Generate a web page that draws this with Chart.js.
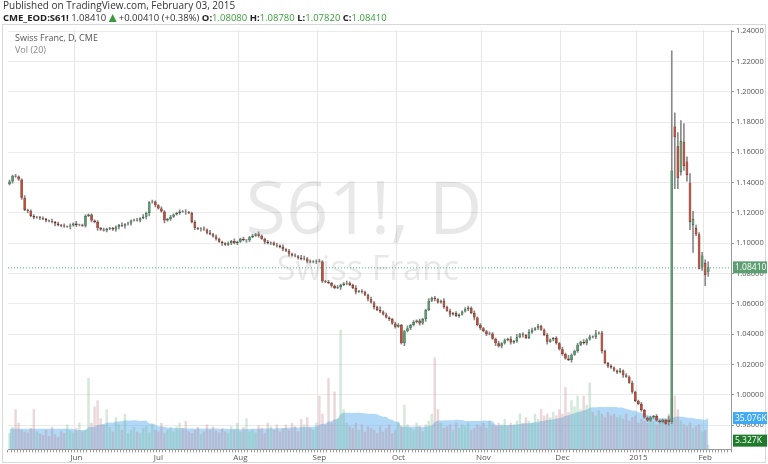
<!DOCTYPE html>
<html><head><meta charset="utf-8">
<script src="https://cdn.jsdelivr.net/npm/chart.js@4.4.1/dist/chart.umd.min.js"></script>
<style>html,body{margin:0;padding:0;background:#fff;overflow:hidden}#w{position:absolute;left:0;top:0;width:768px;height:464px}</style>
</head><body><div id="w"><canvas id="c"></canvas></div>
<script>
// Closing prices May 2014 .. Dec 2014 (open = previous close)
const closesA = [
1.1407,1.1445,1.1440,1.1420,1.1300,1.1220,1.1215,1.1180,1.1170,1.1172,1.1165,1.1160,1.1150,1.1145,1.1140,1.1130,1.1120,1.1118,1.1110,1.1110,
1.1118,1.1130,1.1120,1.1122,1.1116,1.1180,1.1190,1.1150,1.1140,1.1100,1.1090,1.1085,1.1095,1.1100,1.1090,1.1105,1.1120,1.1115,1.1125,1.1130,
1.1150,1.1155,1.1150,1.1165,1.1175,1.1200,1.1270,1.1275,1.1250,1.1230,1.1210,1.1150,1.1160,1.1175,1.1190,1.1200,1.1210,1.1208,1.1205,1.1200,
1.1140,1.1100,1.1095,1.1098,1.1090,1.1070,1.1060,1.1045,1.1030,1.1010,1.1000,1.0990,1.1000,1.1015,1.1000,1.1010,1.1030,1.1020,1.1020,1.1040,
1.1050,1.1060,1.1050,1.1030,1.1010,1.1000,1.1005,1.0990,1.0985,1.0975,1.0960,1.0950,1.0930,1.0920,1.0915,1.0905,1.0895,1.0900,1.0880,1.0875,
1.0880,1.0885,1.0880,1.0750,1.0745,1.0738,1.0720,1.0705,1.0710,1.0725,1.0735,1.0740,1.0725,1.0705,1.0680,1.0685,1.0680,1.0660,1.0630,1.0610,
1.0580,1.0560,1.0550,1.0530,1.0510,1.0500,1.0470,1.0450,1.0460,1.0340,1.0420,1.0440,1.0460,1.0480,1.0490,1.0470,1.0500,1.0560,1.0620,1.0640,
1.0630,1.0610,1.0620,1.0580,1.0555,1.0530,1.0540,1.0520,1.0530,1.0550,1.0565,1.0575,1.0540,1.0510,1.0460,1.0440,1.0420,1.0400,1.0405,1.0370,
1.0340,1.0320,1.0340,1.0360,1.0370,1.0345,1.0355,1.0380,1.0400,1.0395,1.0375,1.0415,1.0430,1.0440,1.0455,1.0430,1.0395,1.0350,1.0365,1.0375,
1.0340,1.0300,1.0270,1.0240,1.0230,1.0265,1.0290,1.0330,1.0350,1.0340,1.0365,1.0385,1.0380,1.0405,1.0410,1.0290,1.0210,1.0190,1.0180,1.0160,
1.0150,1.0160,1.0130,1.0120,1.0080,1.0020,0.9960,0.9940,0.9900,0.9850,0.9830,0.9850,0.9860,0.9830,0.9820,0.9835,0.9810];
// wick lengths, one digit per bar, unit 0.0005
const wickUp = "2120131121121131212121311211121211121312112131121121121121311211213121112131121121311211213121213312112112112112113121131141211221131212113121131212112213121121131213141213212112112131411213121412112113121211211212111";
const wickDn = "1211213121212113121131211212131121122131211213412113121121311213121121311212113211213121212131121121131211211312113121213121121211312112131121121311211213121211312112121311212113121121131211211213121121311211211";
// January 2015 explicit OHLC
const janOpen  = [0.9835,0.9820,1.1770,1.1640,1.1470,1.1670,1.1540,1.1400,1.1120,1.1100,1.1060,1.0840,1.0870,1.0808];
const janHigh  = [0.9860,1.2270,1.1860,1.1730,1.1810,1.1790,1.1570,1.1460,1.1210,1.1120,1.1070,1.0940,1.0890,1.0878];
const janLow   = [0.9800,0.9810,1.1360,1.1360,1.1450,1.1480,1.1410,1.1090,1.0940,1.1050,1.0830,1.0820,1.0720,1.0782];
const janClose = [0.9820,1.1480,1.1700,1.1430,1.1675,1.1510,1.1450,1.1140,1.1160,1.1060,1.0830,1.0920,1.0790,1.0841];
// volume (thousands)
const volumes = [
18,25,45,30,22,20,19,24,45,20,18,16,22,15,25,17,14,20,18,28,21,19,24,30,20,22,80,30,48,55,
35,27,45,25,20,36,28,22,40,18,22,25,20,18,24,26,19,28,22,20,30,18,22,25,20,26,30,24,32,20,
18,22,25,17,20,28,22,26,21,19,24,20,18,26,22,30,20,25,35,20,22,19,27,24,18,30,26,22,28,20,
24,28,22,30,26,20,34,28,36,24,22,30,60,40,28,80,30,65,35,134,45,30,26,24,30,22,28,20,26,24,
22,18,26,20,24,28,18,22,30,26,50,28,24,22,30,26,20,28,32,40,103,45,30,24,26,28,22,30,24,28,
26,30,22,24,28,26,30,24,32,28,26,30,28,34,26,30,28,32,40,30,36,32,30,40,34,45,38,40,36,42,
38,45,40,70,42,55,48,60,45,60,50,75,42,38,44,40,36,42,38,40,36,38,34,40,32,36,38,30,34,32,
30,36,32,28,30,34,30,40,58,60,45,32,28,26,30,24,26,28,20,22,5.327];
const monthTicks = [[22,"Jun"],[49,"Jul"],[76,"Aug"],[102,"Sep"],[128,"Oct"],[156,"Nov"],[182,"Dec"],[207,"2015"],[229,"Feb"]];
const priceTicks = [0.98,1.00,1.02,1.04,1.06,1.08,1.10,1.12,1.14,1.16,1.18,1.20,1.22,1.24];
const lastPrice = 1.0841, lastVolMA = 35.076, lastVol = 5.327;
const padBars = 7;

const O=[],H=[],L=[],C=[];
closesA.forEach((c,i)=>{const o=i?closesA[i-1]:1.1390;O.push(o);C.push(c);
  H.push(Math.max(o,c)+(+wickUp[i]||1)*0.0005);L.push(Math.min(o,c)-(+wickDn[i]||1)*0.0005);});
janClose.forEach((c,i)=>{O.push(janOpen[i]);H.push(janHigh[i]);L.push(janLow[i]);C.push(c);});
const N=C.length, total=N+padBars;
const labels=new Array(total).fill('');
monthTicks.forEach(([i,n])=>labels[i]=n);
const pad=a=>a.concat(new Array(padBars).fill(null));
const up=C.map((c,i)=>c>=O[i]);
const bodies=pad(C.map((c,i)=>{let a=O[i],b=c;if(Math.abs(a-b)<0.0004){b=a+(up[i]?0.0004:-0.0004);}return [a,b];}));
const wicks=pad(C.map((c,i)=>[L[i],H[i]]));
const ma=volumes.map((v,i)=>{if(i<19)return null;let s=0;for(let k=i-19;k<=i;k++)s+=volumes[k];return s/20;});
ma[ma.length-1]=lastVolMA;
for(let i=0;i<19;i++)ma[i]=ma[19];

const upC='#5b9e6f',dnC='#c44a35',upB='#2f6b43',dnB='#7d2a1e';
const deco={id:'deco',
 beforeDatasetsDraw(ch){const g=ch.ctx,a=ch.chartArea;g.save();
  g.fillStyle='rgba(0,0,0,0.09)';g.textAlign='center';g.textBaseline='middle';
  g.font='74px "Open Sans", sans-serif';g.fillText('S61!, D',364,213);
  g.font='34px "Open Sans", sans-serif';g.fillText('Swiss Franc',368,270);g.restore();},
 afterDraw(ch){const g=ch.ctx,a=ch.chartArea,y=ch.scales.y,v=ch.scales.yv;g.save();
  g.font='10px "Open Sans", sans-serif';g.textBaseline='middle';g.fillStyle='#333';
  g.fillText('Published on TradingView.com, February 03, 2015',3,6);
  let x=3;const seg=(t,c,b)=>{g.font=(b?'bold ':'')+'9.5px "Open Sans", sans-serif';g.fillStyle=c;g.fillText(t,x,18);x+=g.measureText(t).width;};
  seg('CME_EOD:S61! ','#222',1);seg('1.08410 ','#333');
  g.fillStyle='#3a9a3a';g.beginPath();g.moveTo(x,22);g.lineTo(x+8,22);g.lineTo(x+4,14);g.fill();x+=10;
  seg('+0.00410 (+0.38%) ','#333');seg('O:','#222',1);seg('1.08080 ','#3aa03a');seg('H:','#222',1);seg('1.08780 ','#3aa03a');
  seg('L:','#222',1);seg('1.07820 ','#3aa03a');seg('C:','#222',1);seg('1.08410','#3aa03a');
  g.strokeStyle='#d5d9de';g.lineWidth=1;g.strokeRect(2.5,24.5,763,438);
  g.font='9px "Open Sans", sans-serif';g.fillStyle='#555';g.fillText('Swiss Franc, D, CME',15,38);
  g.fillStyle='#888';g.fillText('Vol (20)',15,50);
  const py=y.getPixelForValue(lastPrice);
  g.setLineDash([1,2]);g.strokeStyle='#5aa88a';g.beginPath();g.moveTo(a.left,py+.5);g.lineTo(a.right,py+.5);g.stroke();g.setLineDash([]);
  const box=(yy,t,bg)=>{g.fillStyle=bg;g.fillRect(a.right+2,yy-6,34,12);g.fillStyle='#fff';g.font='8.5px "Open Sans", sans-serif';g.textAlign='left';g.fillText(t,a.right+4,yy);};
  box(py,'1.08410','#5d9e72');box(v.getPixelForValue(lastVolMA),'35.076K','#3fa9f5');box(v.getPixelForValue(lastVol)-4,'5.327K','#1f7a2a');
  g.restore();}};

new Chart(document.getElementById('c'),{
 data:{labels,datasets:[
  {type:'bar',label:'wick',data:wicks,yAxisID:'y',backgroundColor:'#8a8a8a',barThickness:1,grouped:false,order:1},
  {type:'bar',label:'body',data:bodies,yAxisID:'y',backgroundColor:up.map(u=>u?upC:dnC),borderColor:up.map(u=>u?upB:dnB),borderWidth:0.7,borderSkipped:false,barPercentage:0.9,categoryPercentage:1,grouped:false,order:0},
  {type:'line',label:'volma',data:pad(ma),yAxisID:'yv',fill:'origin',backgroundColor:'rgba(100,180,240,0.5)',borderWidth:0,pointRadius:0,tension:0.3,order:3},
  {type:'bar',label:'vol',data:pad(volumes),yAxisID:'yv',backgroundColor:pad(up.map(u=>u?'rgba(110,180,130,0.3)':'rgba(190,120,130,0.3)')),barPercentage:0.8,categoryPercentage:1,grouped:false,order:2}
 ]},
 options:{responsive:true,maintainAspectRatio:false,animation:false,
  layout:{padding:{left:8,top:30,right:0,bottom:0}},
  plugins:{legend:{display:false},tooltip:{enabled:false}},
  scales:{
   x:{grid:{color:c=>labels[c.index]?'#e6e6e6':'rgba(0,0,0,0)',drawTicks:true,tickLength:3,tickColor:'#999'},border:{color:'#999'},
      ticks:{autoSkip:false,maxRotation:0,font:{size:8,family:'"Open Sans", sans-serif'},color:'#555',padding:1,callback:(v,i)=>labels[i]}},
   y:{position:'right',min:0.964,max:1.2407,afterBuildTicks:s=>{s.ticks=priceTicks.map(v=>({value:v}));},afterFit:s=>{s.width=37;},
      grid:{color:'#ebebeb',tickLength:3,tickColor:'#999'},border:{color:'#999'},
      ticks:{font:{size:7.5,family:'"Open Sans", sans-serif'},color:'#555',padding:2,callback:v=>v.toFixed(5)}},
   yv:{display:false,min:0,max:470}
  }},
 plugins:[deco]});
</script></body></html>
